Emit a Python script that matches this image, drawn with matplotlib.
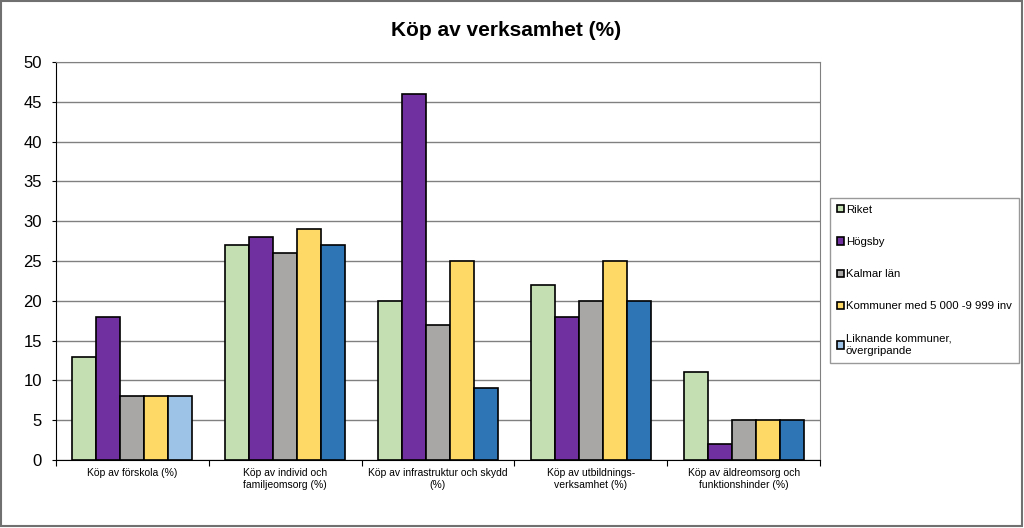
import matplotlib
matplotlib.use("Agg")
import matplotlib.pyplot as plt
import numpy as np
from matplotlib.patches import Rectangle

plt.rcParams['font.family'] = ['Liberation Sans', 'DejaVu Sans']

categories = ["Köp av förskola (%)", "Köp av individ och\nfamiljeomsorg (%)",
              "Köp av infrastruktur och skydd\n(%)", "Köp av utbildnings-\nverksamhet (%)",
              "Köp av äldreomsorg och\nfunktionshinder (%)"]
series_names = ["Riket", "Högsby", "Kalmar län", "Kommuner med 5 000 -9 999 inv",
                "Liknande kommuner,\növergripande"]
riket = [13, 27, 20, 22, 11]
hogsby = [18, 28, 46, 18, 2]
kalmar = [8, 26, 17, 20, 5]
kommuner = [8, 29, 25, 25, 5]
liknande = [8, 27, 9, 20, 5]
values = [riket, hogsby, kalmar, kommuner, liknande]
colors = ["#c4dfb2", "#7030a0", "#a9a6a6", "#ffd966", "#2e75b6"]
first_group_override = "#9dc3e6"

fig = plt.figure(figsize=(10.24, 5.28), dpi=100)
ax = fig.add_axes([56/1024, 1-460/528, (820-56)/1024, (460-62)/528])

x = np.arange(len(categories))
w = 0.157
for i, (name, vals, col) in enumerate(zip(series_names, values, colors)):
    cols = [col] * len(vals)
    if i == 4:
        cols[0] = first_group_override
    ax.bar(x + (i - 2) * w, vals, w, color=cols, edgecolor="black", linewidth=1.2,
           label=name, zorder=3)

ax.set_xlim(-0.5, len(categories) - 0.5)
ax.set_ylim(0, 50)
ax.set_yticks(range(0, 51, 5))
ax.tick_params(axis='y', labelsize=12, length=3, width=0.8, direction='out', pad=7)
ax.yaxis.grid(True, color="#808080", linewidth=1.0, zorder=0)
ax.set_xticks(np.arange(-0.5, len(categories), 1.0))
ax.set_xticklabels([])
ax.set_xticks(x, minor=True)
ax.set_xticklabels(categories, minor=True, fontsize=7.5)
ax.tick_params(axis='x', which='minor', length=0, pad=6)
ax.tick_params(axis='x', which='major', length=4, width=0.8)
for s in ['top', 'right']:
    ax.spines[s].set_color("#808080")
for s in ['left', 'bottom']:
    ax.spines[s].set_color("black")

fig.text(506/1024, 1-31/528, "Köp av verksamhet (%)", ha='center', va='center',
         fontsize=15, fontweight='bold')

handles, labels = ax.get_legend_handles_labels()
leg = fig.legend(handles, labels, loc='upper left', bbox_to_anchor=(830/1024, 1-198/528),
                 fontsize=8.2, frameon=True, fancybox=False, edgecolor="#808080",
                 handlelength=0.6, handleheight=0.6, handletextpad=0.2,
                 labelspacing=1.95, borderpad=0.6, borderaxespad=0)
leg.get_frame().set_linewidth(1.0)
for h in leg.legend_handles:
    h.set_linewidth(1.2)
for t in leg.get_texts():
    t.set_linespacing(1.35)

fig.patches.append(Rectangle((0.001, 0.003), 0.997, 0.995, transform=fig.transFigure,
                             fill=False, edgecolor="#707070", linewidth=1.5))

fig.savefig("out.png", dpi=100)
